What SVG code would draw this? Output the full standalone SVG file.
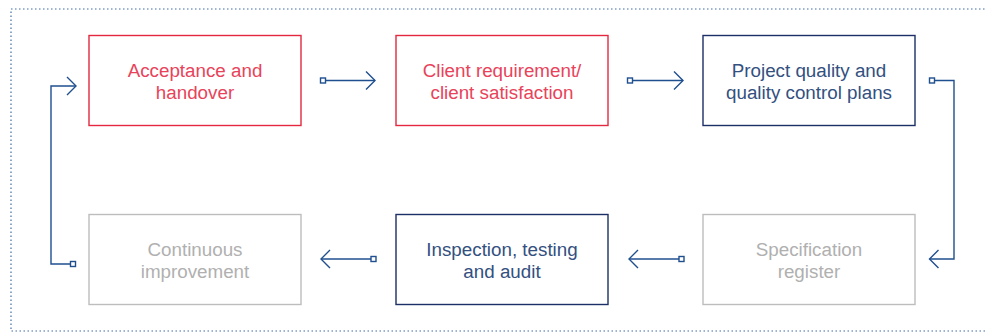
<svg xmlns="http://www.w3.org/2000/svg" width="985" height="333" viewBox="0 0 985 333">
<defs>
<style>
.frame{fill:none;stroke:#3f6ea8;stroke-width:1.2;stroke-dasharray:1.5 2.5}
.box{fill:#fff;stroke-width:1.4}
.red{stroke:#e3283f}
.navy{stroke:#1c2f66}
.gray{stroke:#bdbdbd}
text{font-family:"Liberation Sans",Arial,sans-serif;font-size:18.8px;text-anchor:middle}
.tred{fill:#e8435a}
.tnavy{fill:#33507f}
.tgray{fill:#b0b0b0}
.conn{fill:none;stroke:#1f4f8f;stroke-width:1.4}
.sq{fill:#fff;stroke:#1f4f8f;stroke-width:1.4}
</style>
<marker id="chev" markerWidth="14" markerHeight="20" refX="12" refY="10" orient="auto" markerUnits="userSpaceOnUse">
<path d="M3,1 L12,10 L3,19" fill="none" stroke="#1f4f8f" stroke-width="1.4"/>
</marker>
</defs>
<rect class="frame" x="11" y="9" width="1000" height="322"/>
<g id="connectors">
<line class="conn" x1="325" y1="80.5" x2="375" y2="80.5" marker-end="url(#chev)"/>
<rect class="sq" x="320.5" y="78" width="5" height="5"/>
<line class="conn" x1="632" y1="80.5" x2="683" y2="80.5" marker-end="url(#chev)"/>
<rect class="sq" x="627.5" y="78" width="5" height="5"/>
<polyline class="conn" points="934,80.5 954,80.5 954,259 929.5,259" marker-end="url(#chev)"/>
<rect class="sq" x="929.5" y="78" width="5" height="5"/>
<line class="conn" x1="679" y1="259" x2="629" y2="259" marker-end="url(#chev)"/>
<rect class="sq" x="679" y="256.5" width="5" height="5"/>
<line class="conn" x1="371" y1="259" x2="321" y2="259" marker-end="url(#chev)"/>
<rect class="sq" x="371" y="256.5" width="5" height="5"/>
<polyline class="conn" points="71,264 51,264 51,86 76,86" marker-end="url(#chev)"/>
<rect class="sq" x="70.5" y="261.5" width="5" height="5"/>
</g>
<g id="node-acceptance">
<rect class="box red" x="89" y="35.5" width="212" height="90"/>
<text class="tred" x="195" y="76.5">Acceptance and</text>
<text class="tred" x="195" y="98.5">handover</text>
</g>
<g id="node-client">
<rect class="box red" x="396" y="35.5" width="212" height="90"/>
<text class="tred" x="502" y="76.5">Client requirement/</text>
<text class="tred" x="502" y="98.5">client satisfaction</text>
</g>
<g id="node-project">
<rect class="box navy" x="703" y="35.5" width="212" height="90"/>
<text class="tnavy" x="809" y="76.5">Project quality and</text>
<text class="tnavy" x="809" y="98.5">quality control plans</text>
</g>
<g id="node-specification">
<rect class="box gray" x="703" y="214.5" width="212" height="90"/>
<text class="tgray" x="809" y="255.5">Specification</text>
<text class="tgray" x="809" y="277.5">register</text>
</g>
<g id="node-inspection">
<rect class="box navy" x="396" y="214.5" width="212" height="90"/>
<text class="tnavy" x="502" y="255.5">Inspection, testing</text>
<text class="tnavy" x="502" y="277.5">and audit</text>
</g>
<g id="node-continuous">
<rect class="box gray" x="89" y="214.5" width="212" height="90"/>
<text class="tgray" x="195" y="255.5">Continuous</text>
<text class="tgray" x="195" y="277.5">improvement</text>
</g>
</svg>
